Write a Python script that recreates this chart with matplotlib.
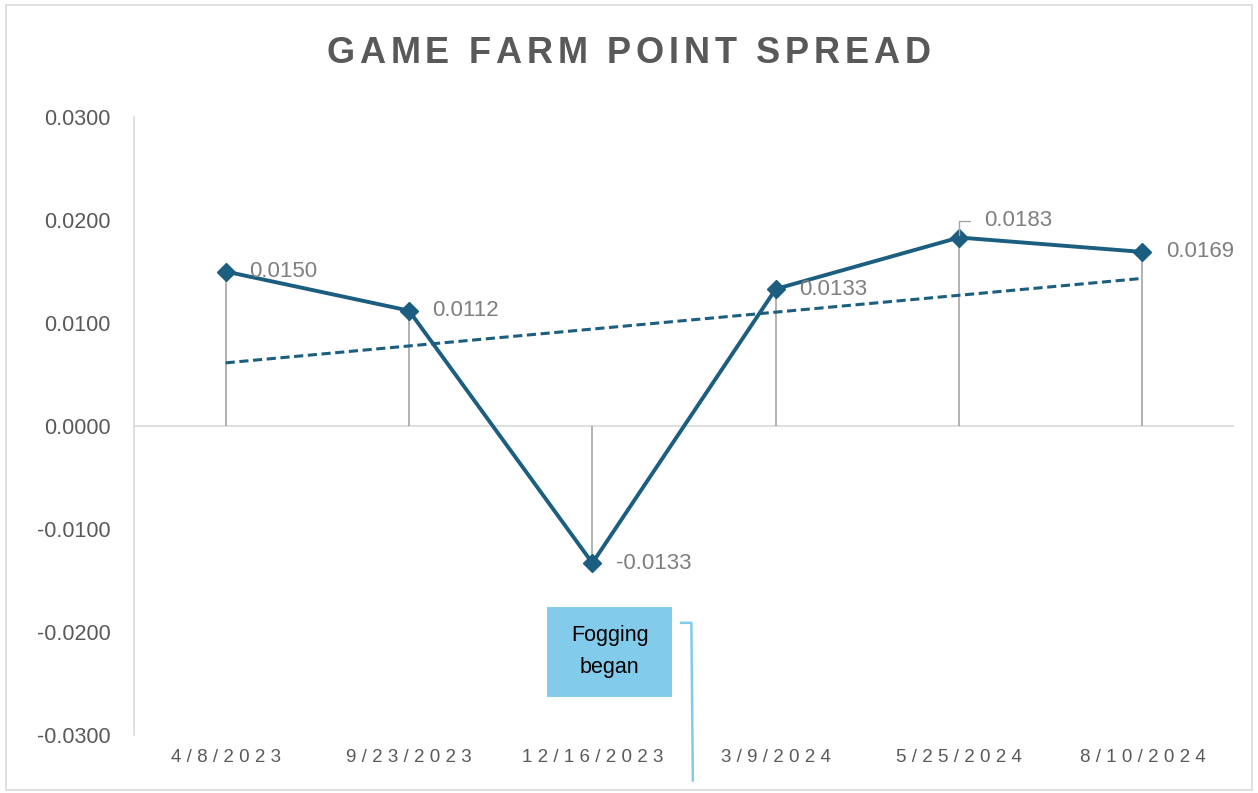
"""Game farm point spread: line with drop lines, linear trend and a callout."""
import numpy as np
import matplotlib.pyplot as plt
from matplotlib.patches import Rectangle

plt.rcParams.update(
    {
        "font.family": ["Liberation Sans", "DejaVu Sans"],
        "axes.spines.top": False,
        "axes.spines.right": False,
        "axes.spines.bottom": False,
    }
)

title = "GAME FARM POINT SPREAD"
dates = ["4/8/2023", "9/23/2023", "12/16/2023", "3/9/2024", "5/25/2024", "8/10/2024"]
spread = [0.0150, 0.0112, -0.0133, 0.0133, 0.0183, 0.0169]
y_ticks = [-0.03, -0.02, -0.01, 0.0, 0.01, 0.02, 0.03]
callout_text = "Fogging\nbegan"

LINE = "#1b5e80"
DROP = "#a6a6a6"
AXIS = "#d9d9d9"
TXT = "#595959"
LBL = "#7f7f7f"
CALLOUT = "#83cbeb"


def spaced_text(fig, s, xc, yc, gap_px, **kw):
    """Draw s centred at figure fraction (xc, yc) with extra letter spacing."""
    r = fig.canvas.get_renderer()
    space = 0.28 * kw["fontsize"] * fig.dpi / 72
    widths = []
    for ch in s:
        if ch == " ":
            widths.append(space)
            continue
        t = fig.text(0, 0, ch, **kw)
        widths.append(t.get_window_extent(r).width)
        t.remove()
    total = sum(widths) + gap_px * (len(s) - 1)
    x = xc * fig.bbox.width - total / 2
    for ch, w in zip(s, widths):
        if ch != " ":
            fig.text(x / fig.bbox.width, yc, ch, ha="left", va="center", **kw)
        x += w + gap_px


x = np.arange(len(dates))
y = np.array(spread)

fig = plt.figure(figsize=(12.58, 7.93), dpi=100)
ax = fig.add_axes([0.1065, 0.073, 0.8745, 0.7795])

# drop lines
ax.vlines(x, 0, y, color=DROP, lw=1.2, zorder=1)
ax.axhline(0, color=AXIS, lw=1.2, zorder=0)

# linear trend
slope, icpt = np.polyfit(x, y, 1)
ax.plot(x, slope * x + icpt, color=LINE, lw=2.2, ls=(0, (3, 1.5)), zorder=2)

ax.plot(x, y, color=LINE, lw=2.8, marker="D", markersize=9, zorder=3)

for xi, yi in zip(x, y):
    if xi == 4:
        ax.annotate(f"{yi:.4f}", (xi, yi), xytext=(18, 12), textcoords="offset points",
                    fontsize=16, color=LBL, va="center", ha="left",
                    arrowprops=dict(arrowstyle="-", color=DROP, lw=1.0,
                                    connectionstyle="angle,angleA=0,angleB=90",
                                    shrinkA=8, shrinkB=2, relpos=(0, 0.5)))
    else:
        ax.annotate(f"{yi:.4f}", (xi, yi), xytext=(17, 0), textcoords="offset points",
                    fontsize=16, color=LBL, va="center", ha="left")

ax.set_xlim(-0.5, len(dates) - 0.5)
ax.set_ylim(-0.03, 0.03)
ax.set_yticks(y_ticks)
ax.set_yticklabels([f"{t:.4f}" for t in y_ticks], fontsize=15.5, color=TXT)
ax.set_xticks(x)
ax.set_xticklabels([" ".join(d) for d in dates], fontsize=13.5, color=TXT)
ax.tick_params(axis="both", length=0)
ax.tick_params(axis="y", pad=17)
ax.tick_params(axis="x", pad=10)
ax.spines["left"].set_color(AXIS)
ax.spines["left"].set_linewidth(1.2)

# callout box and leader
ax.add_patch(Rectangle((1.753, -0.02631), 0.682, 0.00874, fc=CALLOUT, ec="none",
                       clip_on=False, zorder=4))
ax.text(2.094, -0.0219, callout_text, ha="center", va="center", fontsize=15.5,
        color="black", linespacing=1.65, zorder=5)
ax.plot([2.484, 2.54, 2.548], [-0.0191, -0.0191, -0.0344], color=CALLOUT, lw=1.8,
        clip_on=False, zorder=4)

spaced_text(fig, title, 0.4995, 0.932, 4.8, fontsize=26, fontweight="bold", color=TXT)

fig.patches.append(Rectangle((0.005, 0.004), 0.99, 0.99, transform=fig.transFigure,
                             fill=False, ec=AXIS, lw=1.2))

fig.savefig("out.png", dpi=100)
